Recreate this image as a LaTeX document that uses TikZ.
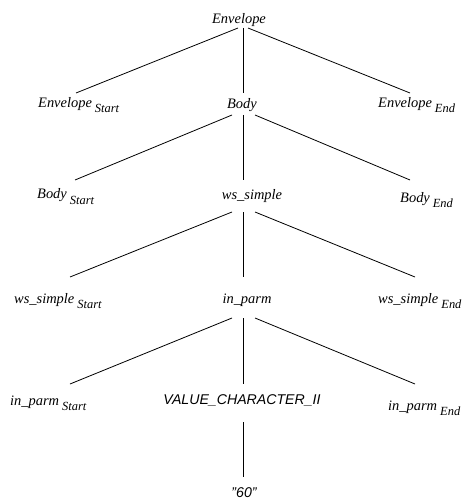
\documentclass[tikz,border=0pt]{standalone}
\usepackage{fontspec}
\setmainfont{Liberation Serif}
\setsansfont{Liberation Sans}
% lowered, slightly smaller suffix after a label
\newcommand\subtxt[1]{\hspace{3bp}\raisebox{-5bp}{\fontsize{12.5}{14}\selectfont #1}}
\tikzset{
  lbl/.style={inner sep=0pt, font=\fontsize{14.5}{16}\selectfont\itshape},
  slbl/.style={inner sep=0pt, font=\fontsize{14.2}{16}\selectfont\sffamily\itshape},
  edge/.style={draw=black, line width=0.8bp},
}
\begin{document}
\begin{tikzpicture}[x=1bp, y=-1bp]
\useasboundingbox (0,0) rectangle (462,503);

% level 0
\node[lbl, anchor=base] (env) at (239,24) {Envelope};
% level 1
\node[lbl, anchor=base west] (envs) at (38,108) {Envelope\subtxt{Start}};
\node[lbl, anchor=base] (body) at (242,109) {Body};
\node[lbl, anchor=base west] (enve) at (378,108) {Envelope\subtxt{End}};
% level 2
\node[lbl, anchor=base west] (bodys) at (37,199) {Body\subtxt{Start}};
\node[lbl, anchor=base] (ws) at (252,200) {ws\_simple};
\node[lbl, anchor=base west] (bodye) at (400,202) {Body\subtxt{End}};
% level 3
\node[lbl, anchor=base west] (wss) at (14,303) {ws\_simple\subtxt{Start}};
\node[lbl, anchor=base] (inp) at (247,303) {in\_parm};
\node[lbl, anchor=base west] (wse) at (378,303) {ws\_simple\subtxt{End}};
% level 4
\node[lbl, anchor=base west] (inps) at (10,405) {in\_parm\subtxt{Start}};
\node[slbl, anchor=base] (val) at (242,404) {VALUE\_CHARACTER\_II};
\node[lbl, anchor=base west] (inpe) at (388,410) {in\_parm\subtxt{End}};
% level 5
\node[slbl, anchor=base] (sixty) at (244,497) {"60"};

% tree edges
\draw[edge] ([shift={(-1,4)}]env.base) -- ([shift={(38,-15)}]envs.base west);
\draw[edge] ([shift={(4,4)}]env.base) -- ([shift={(1,-16)}]body.base);
\draw[edge] ([shift={(9,4)}]env.base) -- ([shift={(32,-15)}]enve.base west);

\draw[edge] ([shift={(-10,6)}]body.base) -- ([shift={(38,-19)}]bodys.base west);
\draw[edge] ([shift={(1,6)}]body.base) -- ([shift={(-9,-20)}]ws.base);
\draw[edge] ([shift={(13,6)}]body.base) -- ([shift={(10,-22)}]bodye.base west);

\draw[edge] ([shift={(-20,12)}]ws.base) -- ([shift={(56,-26)}]wss.base west);
\draw[edge] ([shift={(-9,12)}]ws.base) -- ([shift={(-4,-26)}]inp.base);
\draw[edge] ([shift={(3,12)}]ws.base) -- ([shift={(37,-26)}]wse.base west);

\draw[edge] ([shift={(-15,15)}]inp.base) -- ([shift={(60,-21)}]inps.base west);
\draw[edge] ([shift={(-4,15)}]inp.base) -- ([shift={(1,-20)}]val.base);
\draw[edge] ([shift={(8,15)}]inp.base) -- ([shift={(27,-26)}]inpe.base west);

\draw[edge] ([shift={(1,18)}]val.base) -- ([shift={(-1,-20)}]sixty.base);
\end{tikzpicture}
\end{document}
